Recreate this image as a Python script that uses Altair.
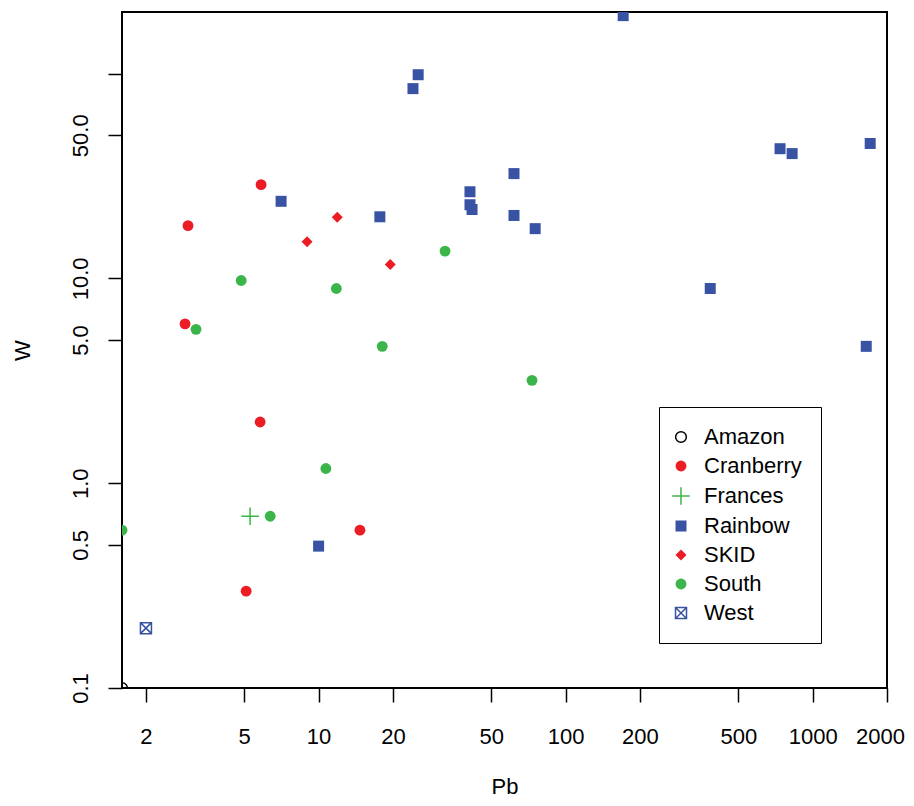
import altair as alt
import pandas as pd

# ---- data ----
groups = ["Amazon", "Cranberry", "Frances", "Rainbow", "SKID", "South", "West"]

amazon_pb = [1.6]
amazon_w = [0.1]

cranberry_pb = [5.85, 2.96, 2.88, 5.8, 14.7, 5.09]
cranberry_w = [28.7, 18.1, 6.0, 1.99, 0.59, 0.297]

frances_pb = [5.28]
frances_w = [0.69]

rainbow_pb = [171, 25.3, 24.1, 7.05, 41.0, 61.8, 41.0, 41.8, 17.7, 61.8, 75.3,
              385, 738, 826, 1710, 1648, 10.0]
rainbow_w = [192, 98.8, 84.5, 23.8, 26.5, 32.5, 22.9, 21.7, 20.0, 20.3, 17.5,
             8.93, 43.0, 40.7, 45.6, 4.66, 0.493]

skid_pb = [11.9, 8.98, 19.5]
skid_w = [19.9, 15.1, 11.7]

south_pb = [32.5, 4.86, 11.8, 3.19, 18.1, 73.1, 10.7, 6.37, 1.6]
south_w = [13.6, 9.77, 8.93, 5.64, 4.66, 3.18, 1.18, 0.69, 0.59]

west_pb = [2.0]
west_w = [0.196]

x_ticks = [2, 5, 10, 20, 50, 100, 200, 500, 1000, 2000]
y_ticks = [0.1, 0.5, 1, 5, 10, 50, 100]

# ---- styling ----
RED = "#EC1C24"
GREEN = "#3BB54A"
BLUE = "#3953A4"
NONE = "transparent"

fills = [NONE, RED, NONE, BLUE, RED, GREEN, NONE]
strokes = ["black", NONE, GREEN, NONE, NONE, NONE, BLUE]
PLUS = "M-1,0L1,0M0,-1L0,1"
BOXX = "M-1,-1L1,-1L1,1L-1,1Z M-1,-1L1,1 M-1,1L1,-1"
shapes = ["circle", "circle", PLUS, "square", "diamond", "circle", BOXX]
sizes = [115, 118, 310, 121, 121, 118, 121]

series = {
    "Amazon": (amazon_pb, amazon_w),
    "Cranberry": (cranberry_pb, cranberry_w),
    "Frances": (frances_pb, frances_w),
    "Rainbow": (rainbow_pb, rainbow_w),
    "SKID": (skid_pb, skid_w),
    "South": (south_pb, south_w),
    "West": (west_pb, west_w),
}
rows = []
for g, (xs, ys) in series.items():
    for a, b in zip(xs, ys):
        rows.append({"group": g, "Pb": a, "W": b})
df = pd.DataFrame(rows)

FONT = "Liberation Sans"

legend = alt.Legend(
    orient="none", legendX=537, legendY=395, title=None,
    strokeColor="black", fillColor="white", padding=19,
    labelFont=FONT, labelFontSize=22, labelColor="black", labelLimit=300,
    labelOffset=12, rowPadding=7, symbolOffset=-8,
    symbolStrokeWidth=1.5, symbolOpacity=1,
)

chart = alt.Chart(df).mark_point(opacity=1, strokeWidth=1.5, clip=True).encode(
    x=alt.X("Pb:Q", title="Pb",
            scale=alt.Scale(type="log", domain=[1.6, 2000], nice=False, zero=False),
            axis=alt.Axis(values=x_ticks, format="d", grid=False, domain=False,
                          tickColor="black", tickSize=14, tickWidth=1.5,
                          labelFont=FONT, labelFontSize=22, labelColor="black",
                          labelPadding=24, labelFlush=False, labelOverlap=False,
                          labelBaseline="top",
                          labelOffset={"condition": {"test": "datum.value >= 2000", "value": -7},
                                       "value": 0},
                          titleFont=FONT, titleFontSize=22, titleFontWeight="normal",
                          titleColor="black", titleY=98, titleBaseline="middle")),
    y=alt.Y("W:Q", title="W",
            scale=alt.Scale(type="log", domain=[0.1, 200], nice=False, zero=False),
            axis=alt.Axis(values=y_ticks, grid=False, domain=False,
                          labelExpr="datum.value >= 100 ? '' : format(datum.value, '.1f')",
                          tickColor="black", tickSize=14, tickWidth=1.5,
                          labelFont=FONT, labelFontSize=22, labelColor="black",
                          labelAngle=270, labelAlign="center", labelBaseline="bottom",
                          labelPadding=16, labelFlush=False, labelOverlap=False,
                          titleFont=FONT, titleFontSize=22, titleFontWeight="normal",
                          titleColor="black", titleAngle=270, titleX=-100, titleY=338,
                          titleAlign="center", titleBaseline="middle")),
    fill=alt.Fill("group:N", scale=alt.Scale(domain=groups, range=fills), legend=legend),
    stroke=alt.Stroke("group:N", scale=alt.Scale(domain=groups, range=strokes), legend=legend),
    shape=alt.Shape("group:N", scale=alt.Scale(domain=groups, range=shapes), legend=legend),
    size=alt.Size("group:N", scale=alt.Scale(type="ordinal", domain=groups, range=sizes), legend=legend),
).properties(
    width=765, height=676,
    background="white",
    autosize=alt.AutoSizeParams(type="none"),
    padding={"left": 114, "top": 4, "right": 19, "bottom": 110},
).configure_view(
    stroke="black", strokeWidth=2, fill="white"
)

chart.save("out.html", embed_options={"renderer": "svg", "actions": False})
